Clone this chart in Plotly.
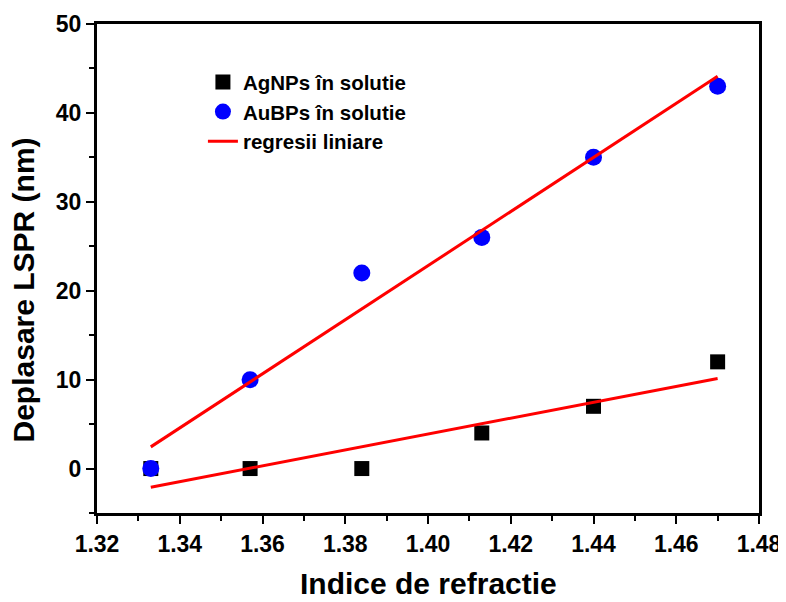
import numpy as np
import plotly.graph_objects as go

refr_index = [1.333, 1.357, 1.384, 1.413, 1.440, 1.470]
ag_shift = [0, 0, 0, 4, 7, 12]
au_shift = [0, 10, 22, 26, 35, 43]

x_ticks = [1.32, 1.34, 1.36, 1.38, 1.40, 1.42, 1.44, 1.46, 1.48]
y_ticks = [0, 10, 20, 30, 40, 50]

FONT = "Liberation Sans, Arial, sans-serif"

def fit_line(x, y):
    k, b = np.polyfit(x, y, 1)
    xs = [min(x), max(x)]
    return xs, [k * v + b for v in xs]

def leg(name):
    return "<b>%s</b>" % name

fig = go.Figure()
fig.add_trace(go.Scatter(x=refr_index, y=ag_shift, mode="markers", name=leg("AgNPs în solutie"),
                         marker=dict(symbol="square", size=15, color="black")))
fig.add_trace(go.Scatter(x=refr_index, y=au_shift, mode="markers", name=leg("AuBPs în solutie"),
                         marker=dict(symbol="circle", size=17, color="#0000ff")))
ax, ay = fit_line(refr_index, au_shift)
gx, gy = fit_line(refr_index, ag_shift)
fig.add_trace(go.Scatter(x=ax, y=ay, mode="lines", name=leg("regresii liniare"),
                         line=dict(color="#ff0000", width=3)))
fig.add_trace(go.Scatter(x=gx, y=gy, mode="lines", showlegend=False,
                         line=dict(color="#ff0000", width=3)))

axis_common = dict(showline=True, linecolor="black", linewidth=3, mirror=True,
                   ticks="outside", tickwidth=2, ticklen=8, tickcolor="black",
                   showgrid=False, zeroline=False, automargin=False,
                   tickfont=dict(family=FONT, size=23, color="black"))

fig.update_xaxes(range=[1.32, 1.48], tickmode="array", tickvals=x_ticks,
                 ticktext=["<b>%.2f</b>" % v for v in x_ticks],
                 minor=dict(dtick=0.01, ticks="outside", ticklen=5, tickwidth=2, tickcolor="black"),
                 **axis_common)
fig.update_yaxes(range=[-5, 50], tickmode="array", tickvals=y_ticks,
                 ticktext=["<b>%d</b>" % v for v in y_ticks],
                 minor=dict(dtick=5, ticks="outside", ticklen=5, tickwidth=2, tickcolor="black"),
                 **axis_common)

fig.add_annotation(text="<b>Indice de refractie</b>", xref="paper", yref="paper",
                   x=0.5, y=0, xanchor="center", yanchor="middle", yshift=-70,
                   showarrow=False, font=dict(family=FONT, size=30, color="black"))
fig.add_annotation(text="<b>Deplasare LSPR (nm)</b>", xref="paper", yref="paper",
                   x=0, y=0.5, xanchor="center", yanchor="middle", xshift=-74, yshift=-22,
                   textangle=-90, showarrow=False,
                   font=dict(family=FONT, size=30, color="black"))

fig.update_layout(width=778, height=594, plot_bgcolor="white", paper_bgcolor="white",
                  margin=dict(l=89, r=27, t=16, b=89),
                  font=dict(family=FONT, color="black"),
                  legend=dict(x=0.16, y=0.922, xanchor="left", yanchor="top",
                              bgcolor="rgba(0,0,0,0)", tracegroupgap=0,
                              font=dict(family=FONT, size=20.5, color="black")))

fig.write_html("out.html")
